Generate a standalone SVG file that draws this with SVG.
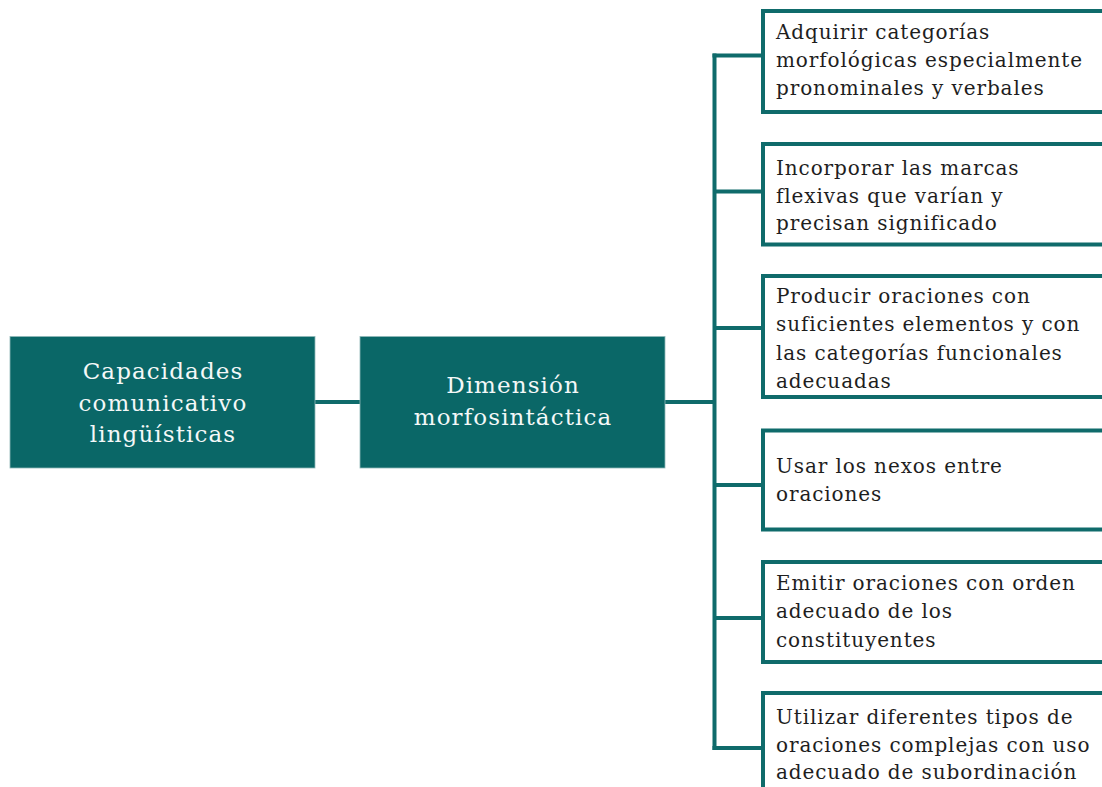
<svg xmlns="http://www.w3.org/2000/svg" width="1102" height="787" viewBox="0 0 1102 787">
<style>
.main{fill:#0a6767;stroke:#8fb8b8;stroke-width:0.8}
.leaf{fill:#ffffff;stroke:#0f6b6b;stroke-width:4}
.wt{font-family:"DejaVu Serif",serif;font-size:23px;fill:#f4f8f8;text-anchor:middle;letter-spacing:1.1px}
.bt{font-family:"DejaVu Serif",serif;font-size:20px;fill:#1e1e1e;letter-spacing:0.9px}
.conn{fill:none;stroke:#0f6b6b;stroke-width:4}
</style>
<rect width="1102" height="787" fill="#ffffff"/>
<g id="connectors">
<line class="conn" x1="315" y1="402" x2="360" y2="402"/>
<line class="conn" x1="665" y1="402" x2="714.5" y2="402"/>
<line class="conn" x1="714.5" y1="53.5" x2="714.5" y2="750"/>
<line class="conn" x1="712.5" y1="55.5" x2="763" y2="55.5"/>
<line class="conn" x1="714.5" y1="191.5" x2="763" y2="191.5"/>
<line class="conn" x1="714.5" y1="328" x2="763" y2="328"/>
<line class="conn" x1="714.5" y1="485" x2="763" y2="485"/>
<line class="conn" x1="714.5" y1="618" x2="763" y2="618"/>
<line class="conn" x1="712.5" y1="748" x2="763" y2="748"/>
</g>
<g id="n1">
<rect class="main" x="10" y="336.5" width="305" height="131.5"/>
<text class="wt" x="163" y="379">Capacidades</text>
<text class="wt" x="163" y="411">comunicativo</text>
<text class="wt" x="163" y="442">lingüísticas</text>
</g>
<g id="n2">
<rect class="main" x="360" y="336.5" width="305" height="131.5"/>
<text class="wt" x="513" y="393">Dimensión</text>
<text class="wt" x="513" y="425">morfosintáctica</text>
</g>
<g id="l1">
<rect class="leaf" x="763" y="11" width="350" height="101"/>
<text class="bt" x="776" y="39">Adquirir categorías</text>
<text class="bt" x="776" y="67">morfológicas especialmente</text>
<text class="bt" x="776" y="95">pronominales y verbales</text>
</g>
<g id="l2">
<rect class="leaf" x="763" y="144" width="350" height="100.5"/>
<text class="bt" x="776" y="175">Incorporar las marcas</text>
<text class="bt" x="776" y="203">flexivas que varían y</text>
<text class="bt" x="776" y="230">precisan significado</text>
</g>
<g id="l3">
<rect class="leaf" x="763" y="276" width="350" height="121"/>
<text class="bt" x="776" y="303">Producir oraciones con</text>
<text class="bt" x="776" y="331">suficientes elementos y con</text>
<text class="bt" x="776" y="360">las categorías funcionales</text>
<text class="bt" x="776" y="388">adecuadas</text>
</g>
<g id="l4">
<rect class="leaf" x="763" y="430.5" width="350" height="99"/>
<text class="bt" x="776" y="473">Usar los nexos entre</text>
<text class="bt" x="776" y="501">oraciones</text>
</g>
<g id="l5">
<rect class="leaf" x="763" y="562" width="350" height="100"/>
<text class="bt" x="776" y="590">Emitir oraciones con orden</text>
<text class="bt" x="776" y="618">adecuado de los</text>
<text class="bt" x="776" y="647">constituyentes</text>
</g>
<g id="l6">
<rect class="leaf" x="763" y="693" width="350" height="110"/>
<text class="bt" x="776" y="724">Utilizar diferentes tipos de</text>
<text class="bt" x="776" y="752">oraciones complejas con uso</text>
<text class="bt" x="776" y="779">adecuado de subordinación</text>
</g>
</svg>
